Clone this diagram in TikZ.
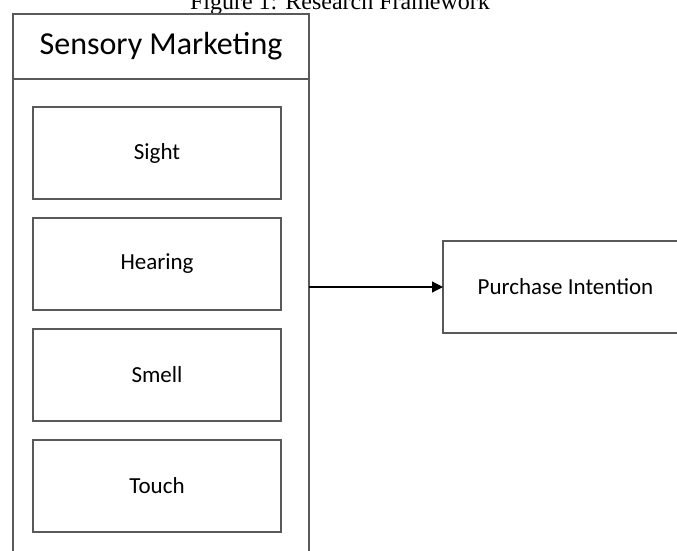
\documentclass[tikz,border=0pt]{standalone}
\usepackage{fontspec}
\setmainfont{Carlito}
\newfontfamily\capfont{Liberation Serif}
\usetikzlibrary{positioning, arrows.meta}

\begin{document}
\begin{tikzpicture}[x=1pt, y=1pt]
	\tikzstyle{sensec}=[rectangle, draw=black!65, line width=1.2pt, outer sep=0pt, inner sep=0pt, minimum width=248pt, minimum height=92pt, font=\fontsize{23}{27}\selectfont]
	\path[use as bounding box, clip] (0,0) rectangle (677,550);
	\node (cap) at (340,540) [anchor=base, font=\capfont\fontsize{24}{28}\selectfont]{Figure 1: Research Framework};
	\node (head) at (161,503.5) [sensec, minimum width=296pt, minimum height=65pt, font=\fontsize{32}{36}\selectfont]{Sensory Marketing};
	\node (panel) [below=0pt of head, sensec, minimum width=296pt, minimum height=520pt]{};
	\node (sight) at (157,397) [sensec]{Sight};
	\node (hearing) [below=19pt of sight, sensec]{Hearing};
	\node (smell) [below=19pt of hearing, sensec]{Smell};
	\node (touch) [below=19pt of smell, sensec]{Touch};
	\node (purchase) at (565.5,263) [sensec, minimum width=245pt]{Purchase Intention};
	\draw[-{Triangle[length=11pt, width=11pt]}, line width=1.2pt] (panel.east |- purchase) -- (purchase);
\end{tikzpicture}
\end{document}
